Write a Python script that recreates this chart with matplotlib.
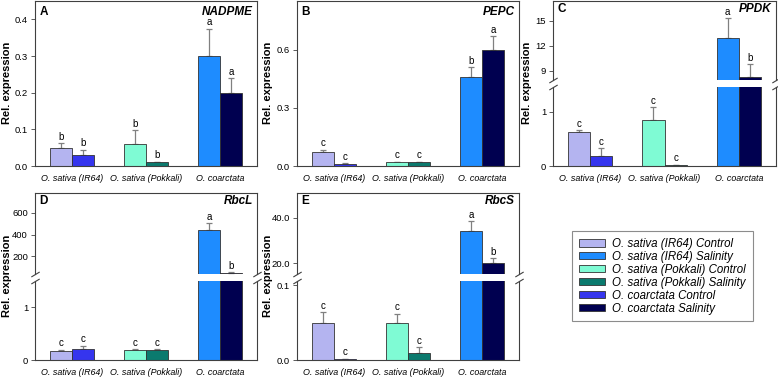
import matplotlib
matplotlib.use("Agg")
import matplotlib.pyplot as plt
from matplotlib.patches import Patch

plt.rcParams['font.family'] = ['Liberation Sans', 'DejaVu Sans']

# groups and legend entries
genotypes = ["O. sativa (IR64)", "O. sativa (Pokkali)", "O. coarctata"]
legend_labels = ["O. sativa (IR64) Control", "O. sativa (IR64) Salinity",
                 "O. sativa (Pokkali) Control", "O. sativa (Pokkali) Salinity",
                 "O. coarctata Control", "O. coarctata Salinity"]

# bar values, order: IR64 ctrl, IR64 sal, Pokkali ctrl, Pokkali sal, coarctata ctrl, coarctata sal
nadpme = [0.05, 0.03, 0.06, 0.01, 0.30, 0.20]
nadpme_err = [0.012, 0.015, 0.037, 0.002, 0.075, 0.04]
nadpme_sig = ["b", "b", "b", "b", "a", "a"]

pepc = [0.07, 0.01, 0.02, 0.02, 0.46, 0.60]
pepc_err = [0.015, 0.003, 0.003, 0.003, 0.05, 0.07]
pepc_sig = ["c", "c", "c", "c", "b", "a"]

ppdk = [0.62, 0.18, 0.84, 0.02, 12.9, 8.3]
ppdk_err = [0.04, 0.15, 0.24, 0.005, 2.4, 1.5]
ppdk_sig = ["c", "c", "c", "c", "a", "b"]

rbcl = [0.18, 0.20, 0.19, 0.19, 440, 50]
rbcl_err = [0.015, 0.07, 0.02, 0.02, 65, 6]
rbcl_sig = ["c", "c", "c", "c", "a", "b"]

rbcs = [0.05, 0.001, 0.05, 0.01, 34, 20]
rbcs_err = [0.014, 0.001, 0.012, 0.007, 4.5, 2.3]
rbcs_sig = ["c", "c", "c", "c", "a", "b"]

bar_colors = ["#b4b4f0", "#3535ee", "#7ffbd4", "#0b7a6e", "#1e8cff", "#000050"]
legend_colors = ["#b4b4f0", "#1e8cff", "#7ffbd4", "#0b7a6e", "#3535ee", "#000050"]

W, H = 778, 377
fig = plt.figure(figsize=(W / 100, H / 100), dpi=100)

spine_col = "#404040"
centers = [0.5, 1.5, 2.5]
bw = 0.3


def px_axes(left, top, right, bottom):
    return fig.add_axes([left / W, 1 - bottom / H, (right - left) / W, (bottom - top) / H])


def style(ax):
    for s in ax.spines.values():
        s.set_color(spine_col)
        s.set_linewidth(0.8)
    ax.tick_params(axis="y", direction="out", length=3, width=0.6, color=spine_col,
                   labelsize=6.8, pad=2)
    ax.tick_params(axis="x", length=0, labelsize=6.4, pad=6)
    ax.set_xlim(0, 3)


def draw_bars(ax, vals, errs, sigs, ylim):
    xs = []
    for c in centers:
        xs += [c - bw / 2, c + bw / 2]
    ax.bar(xs, vals, width=bw, color=bar_colors, edgecolor="#333333", linewidth=0.6, zorder=2)
    for x, v, e, s in zip(xs, vals, errs, sigs):
        top = v + e
        if ylim[0] <= top <= ylim[1] and v >= ylim[0]:
            ax.errorbar(x, v, yerr=[[0], [e]], fmt="none", ecolor="#808080",
                        elinewidth=0.9, capsize=2.5, capthick=0.9, zorder=1)
            ax.annotate(s, (x, top), xytext=(0, 1), textcoords="offset points",
                        ha="center", va="bottom", fontsize=7)
    ax.set_ylim(*ylim)


def label_panel(ax, letter, gene):
    ax.text(0.02, 0.97, letter, transform=ax.transAxes, fontsize=8.5, fontweight="bold",
            va="top", ha="left")
    ax.text(0.98, 0.97, gene, transform=ax.transAxes, fontsize=8.5, fontweight="bold",
            style="italic", va="top", ha="right")


def simple_panel(box, vals, errs, sigs, ylim, yticks, fmt, letter, gene):
    ax = px_axes(*box)
    draw_bars(ax, vals, errs, sigs, ylim)
    ax.set_yticks(yticks)
    ax.set_yticklabels([fmt.format(t) for t in yticks])
    ax.set_xticks(centers)
    ax.set_xticklabels(genotypes, style="italic")
    style(ax)
    label_panel(ax, letter, gene)
    return ax


def broken_panel(box, split, vals, errs, sigs, up_lim, up_ticks, up_fmt,
                 lo_lim, lo_ticks, lo_fmt, letter, gene):
    left, top, right, bottom = box
    ax_up = px_axes(left, top, right, split[0])
    ax_lo = px_axes(left, split[1], right, bottom)
    draw_bars(ax_up, vals, errs, sigs, up_lim)
    draw_bars(ax_lo, vals, errs, sigs, lo_lim)
    ax_up.set_yticks(up_ticks)
    ax_up.set_yticklabels([up_fmt.format(t) for t in up_ticks])
    ax_lo.set_yticks(lo_ticks)
    ax_lo.set_yticklabels([lo_fmt.format(t) for t in lo_ticks])
    ax_up.set_xticks([])
    ax_lo.set_xticks(centers)
    ax_lo.set_xticklabels(genotypes, style="italic")
    style(ax_up)
    style(ax_lo)
    ax_up.spines["bottom"].set_visible(False)
    ax_lo.spines["top"].set_visible(False)
    kw = dict(marker=[(-1, -0.6), (1, 0.6)], markersize=6, linestyle="none",
              color=spine_col, mec=spine_col, mew=0.8, clip_on=False)
    ax_up.plot([0, 1], [0, 0], transform=ax_up.transAxes, **kw)
    ax_lo.plot([0, 1], [1, 1], transform=ax_lo.transAxes, **kw)
    label_panel(ax_up, letter, gene)
    return ax_up, ax_lo


simple_panel((35, 1, 257, 166), nadpme, nadpme_err, nadpme_sig, (0, 0.45),
             [0.0, 0.1, 0.2, 0.3, 0.4], "{:.1f}", "A", "NADPME")
simple_panel((297, 1, 519, 166), pepc, pepc_err, pepc_sig, (0, 0.85),
             [0.0, 0.3, 0.6], "{:.1f}", "B", "PEPC")
broken_panel((553, 1, 776, 166), (80, 87), ppdk, ppdk_err, ppdk_sig,
             (7.9, 17.4), [9, 12, 15], "{:d}", (0, 1.45), [0, 1], "{:d}", "C", "PPDK")
broken_panel((35, 193, 257, 360), (274, 281), rbcl, rbcl_err, rbcl_sig,
             (40, 780), [200, 400, 600], "{:d}", (0, 1.5), [0, 1], "{:d}", "D", "RbcL")
broken_panel((297, 193, 519, 360), (274, 281), rbcs, rbcs_err, rbcs_sig,
             (15.2, 51), [20.0, 40.0], "{:.1f}", (0, 0.106), [0.0, 0.1], "{:.1f}", "E", "RbcS")

# y-axis labels
for x, yc in [(7, 83), (268, 83), (527, 83), (7, 276), (268, 276)]:
    fig.text(x / W, 1 - yc / H, "Rel. expression", rotation=90, ha="center", va="center",
             fontsize=8, fontweight="bold")

handles = [Patch(facecolor=c, edgecolor="#333333", linewidth=0.6) for c in legend_colors]
leg = fig.legend(handles, legend_labels, loc="upper left",
                 bbox_to_anchor=(572 / W, 1 - 231 / H),
                 prop={"style": "italic", "size": 8.3},
                 frameon=True, fancybox=False, handlelength=2.3, handleheight=0.6,
                 labelspacing=0.08, borderpad=0.6, handletextpad=0.6, borderaxespad=0)
leg.get_frame().set_edgecolor("#707070")
leg.get_frame().set_linewidth(0.8)

fig.savefig("out.png", dpi=100)
